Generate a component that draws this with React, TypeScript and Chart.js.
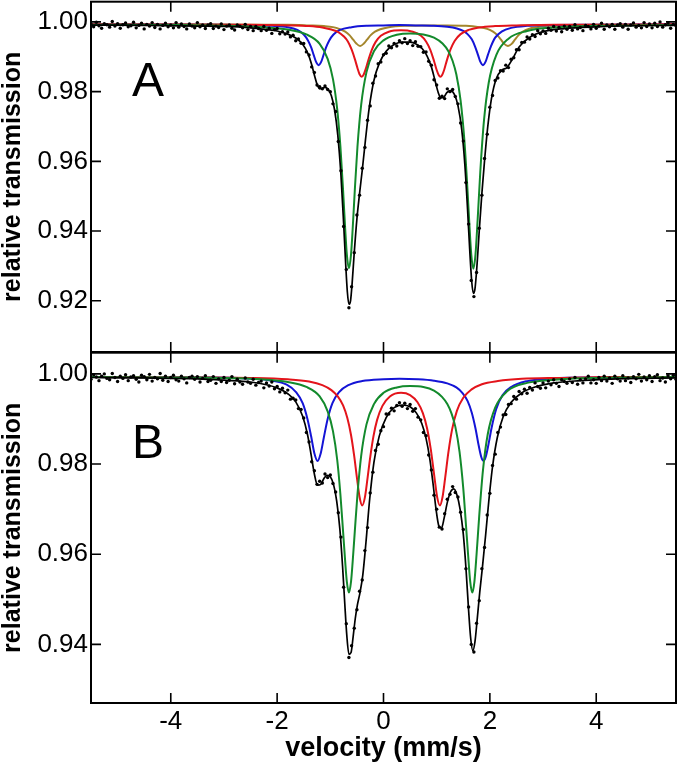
import React, { useEffect, useRef } from 'react';
import { Chart, registerables } from 'chart.js';

Chart.register(...registerables);

const FONT = '"Liberation Sans", Arial, Helvetica, sans-serif';

// ---------- axes ----------
const velocityTicks = [-4, -2, 0, 2, 4];
const transTicksA = [0.92, 0.94, 0.96, 0.98, 1.0];
const transTicksB = [0.94, 0.96, 0.98, 1.0];

// ---------- measured channels (velocity grid of the spectrometer) ----------
const V_START = -5.5;
const V_STEP = 0.05;
const CHANNELS = 221;
const channelVelocity = Array.from({ length: CHANNELS }, (_, i) => Math.round((V_START + V_STEP * i) * 100) / 100);

// ---------- panel A: measured transmission ----------
const dotsA = [
  0.9994, 0.9986, 0.9999, 0.9989, 0.9982, 0.9995, 0.9992, 0.9985, 1.0001, 0.9988, 0.9995, 0.9982, 0.9992, 0.9997, 0.9986, 0.9989, 0.9999, 0.9983, 0.9990, 0.9996,
  0.9980, 0.9993, 0.9988, 0.9998, 0.9984, 0.9993, 0.9980, 0.9990, 0.9996, 0.9986, 0.9991, 0.9983, 0.9998, 0.9985, 0.9994, 0.9987, 0.9980, 0.9994, 0.9988, 0.9983,
  0.9998, 0.9986, 0.9991, 0.9981, 0.9991, 0.9995, 0.9981, 0.9988, 0.9984, 0.9994, 0.9978, 0.9988, 0.9991, 0.9982, 0.9977, 0.9991, 0.9988, 0.9983, 0.9993, 0.9978,
  0.9987, 0.9975, 0.9987, 0.9981, 0.9975, 0.9987, 0.9976, 0.9982, 0.9967, 0.9978, 0.9981, 0.9966, 0.9972, 0.9965, 0.9971, 0.9957, 0.9962, 0.9946, 0.9951, 0.9939,
  0.9938, 0.9914, 0.9905, 0.9871, 0.9855, 0.9819, 0.9814, 0.9808, 0.9816, 0.9806, 0.9800, 0.9765, 0.9743, 0.9657, 0.9573, 0.9413, 0.9290, 0.9180, 0.9240, 0.9338,
  0.9446, 0.9503, 0.9580, 0.9640, 0.9718, 0.9759, 0.9824, 0.9845, 0.9880, 0.9885, 0.9906, 0.9910, 0.9931, 0.9926, 0.9938, 0.9931, 0.9946, 0.9940, 0.9952, 0.9938,
  0.9946, 0.9932, 0.9943, 0.9930, 0.9929, 0.9913, 0.9914, 0.9887, 0.9876, 0.9834, 0.9819, 0.9781, 0.9787, 0.9780, 0.9808, 0.9800, 0.9806, 0.9786, 0.9765, 0.9710,
  0.9658, 0.9539, 0.9420, 0.9258, 0.9212, 0.9281, 0.9408, 0.9503, 0.9608, 0.9678, 0.9755, 0.9789, 0.9832, 0.9839, 0.9860, 0.9859, 0.9876, 0.9869, 0.9893, 0.9897,
  0.9920, 0.9920, 0.9941, 0.9942, 0.9957, 0.9951, 0.9963, 0.9958, 0.9975, 0.9966, 0.9974, 0.9967, 0.9982, 0.9976, 0.9987, 0.9974, 0.9984, 0.9972, 0.9988, 0.9979,
  0.9987, 0.9976, 0.9992, 0.9980, 0.9984, 0.9975, 0.9990, 0.9987, 0.9980, 0.9993, 0.9982, 0.9988, 0.9996, 0.9979, 0.9991, 0.9986, 0.9993, 0.9979, 0.9991, 0.9995,
  0.9985, 0.9993, 0.9979, 0.9991, 0.9997, 0.9985, 0.9990, 0.9983, 0.9998, 0.9987, 0.9994, 0.9983, 0.9996, 0.9987, 1.0000, 0.9985, 0.9992, 0.9997, 0.9982, 0.9993,
  0.9989,
];

// ---------- panel A: fit (sum) and subspectra ----------
const fitA_v = [-5.5, -4.5, -3.5, -3, -2.5, -2.2, -2, -1.8, -1.65, -1.52, -1.42, -1.35, -1.29, -1.24, -1.2, -1.15, -1.1, -1.04, -0.98, -0.92, -0.86, -0.8, -0.75, -0.71, -0.68, -0.65, -0.62, -0.59, -0.55, -0.5, -0.45, -0.4, -0.34, -0.27, -0.18, -0.08, 0.05, 0.2, 0.35, 0.5, 0.62, 0.73, 0.82, 0.9, 0.97, 1.03, 1.08, 1.13, 1.19, 1.26, 1.33, 1.4, 1.47, 1.53, 1.58, 1.62, 1.66, 1.69, 1.72, 1.76, 1.8, 1.85, 1.9, 1.96, 2.03, 2.12, 2.22, 2.32, 2.42, 2.55, 2.75, 3, 3.4, 4, 4.7, 5.5];
const fitA_t = [0.9991, 0.9990, 0.9988, 0.9987, 0.9983, 0.9978, 0.9974, 0.9965, 0.9954, 0.9936, 0.9909, 0.9877, 0.9842, 0.9817, 0.9808, 0.9810, 0.9812, 0.9806, 0.9788, 0.9748, 0.9676, 0.9560, 0.9423, 0.9302, 0.9226, 0.9190, 0.9200, 0.9250, 0.9338, 0.9435, 0.9508, 0.9574, 0.9660, 0.9752, 0.9832, 0.9881, 0.9916, 0.9935, 0.9942, 0.9942, 0.9936, 0.9923, 0.9902, 0.9871, 0.9831, 0.9797, 0.9782, 0.9783, 0.9797, 0.9803, 0.9793, 0.9760, 0.9692, 0.9590, 0.9464, 0.9349, 0.9253, 0.9221, 0.9234, 0.9306, 0.9400, 0.9508, 0.9602, 0.9699, 0.9780, 0.9837, 0.9861, 0.9869, 0.9892, 0.9928, 0.9956, 0.9972, 0.9981, 0.9986, 0.9989, 0.9990];

const greenA_v = [-5.5, -4, -3, -2.3, -1.8, -1.45, -1.2, -1.05, -0.95, -0.87, -0.81, -0.76, -0.72, -0.69, -0.65, -0.61, -0.58, -0.54, -0.49, -0.42, -0.32, -0.18, 0, 0.25, 0.5, 0.75, 0.95, 1.11, 1.22, 1.3, 1.37, 1.45, 1.52, 1.57, 1.61, 1.65, 1.69, 1.73, 1.77, 1.82, 1.89, 1.98, 2.12, 2.35, 2.7, 3.2, 4, 5.5];
const greenA_t = [0.9992, 0.9991, 0.9989, 0.9985, 0.9978, 0.9964, 0.9937, 0.9894, 0.9836, 0.9749, 0.9642, 0.9517, 0.9405, 0.9334, 0.9293, 0.9334, 0.9405, 0.9516, 0.9641, 0.9762, 0.9856, 0.9916, 0.9947, 0.9963, 0.9967, 0.9964, 0.9955, 0.9938, 0.9916, 0.9888, 0.9849, 0.9774, 0.9662, 0.9543, 0.9432, 0.9333, 0.9292, 0.9333, 0.9432, 0.9570, 0.9718, 0.9827, 0.9905, 0.9952, 0.9974, 0.9984, 0.9989, 0.9991];

const redA_v = [-5.5, -3.5, -2.5, -1.8, -1.4, -1.15, -0.98, -0.85, -0.75, -0.67, -0.6, -0.54, -0.49, -0.45, -0.41, -0.37, -0.33, -0.28, -0.22, -0.15, -0.05, 0.1, 0.33, 0.55, 0.7, 0.8, 0.88, 0.95, 1.0, 1.04, 1.07, 1.1, 1.14, 1.19, 1.26, 1.34, 1.45, 1.6, 1.8, 2.1, 2.5, 3.2, 4.2, 5.5];
const redA_t = [0.9993, 0.9992, 0.9992, 0.9990, 0.9988, 0.9984, 0.9978, 0.9971, 0.9959, 0.9944, 0.9921, 0.9894, 0.9868, 0.9850, 0.9843, 0.9850, 0.9867, 0.9893, 0.9920, 0.9942, 0.9960, 0.9972, 0.9976, 0.9972, 0.9961, 0.9944, 0.9920, 0.9888, 0.9862, 0.9847, 0.9843, 0.9847, 0.9862, 0.9889, 0.9921, 0.9946, 0.9965, 0.9977, 0.9984, 0.9988, 0.9990, 0.9992, 0.9992, 0.9993];

const blueA_v = [-5.5, -3.5, -2.6, -2.1, -1.8, -1.62, -1.5, -1.42, -1.36, -1.31, -1.27, -1.22, -1.17, -1.13, -1.08, -1.02, -0.94, -0.82, -0.6, -0.3, 0, 0.3, 0.6, 0.95, 1.2, 1.38, 1.5, 1.58, 1.66, 1.72, 1.78, 1.82, 1.87, 1.92, 1.96, 2.02, 2.1, 2.22, 2.4, 2.7, 3.2, 4, 5.5];
const blueA_t = [0.9993, 0.9992, 0.9991, 0.9989, 0.9985, 0.9977, 0.9964, 0.9947, 0.9927, 0.9904, 0.9886, 0.9876, 0.9886, 0.9904, 0.9927, 0.9947, 0.9964, 0.9977, 0.9985, 0.9989, 0.9990, 0.9991, 0.9990, 0.9989, 0.9986, 0.9981, 0.9974, 0.9965, 0.9950, 0.9930, 0.9904, 0.9886, 0.9876, 0.9886, 0.9904, 0.9930, 0.9955, 0.9972, 0.9983, 0.9989, 0.9991, 0.9992, 0.9993];

const oliveA_v = [-5.5, -3.5, -2.5, -1.8, -1.4, -1.12, -0.95, -0.82, -0.72, -0.64, -0.57, -0.51, -0.44, -0.37, -0.31, -0.24, -0.16, -0.06, 0.1, 0.4, 0.8, 1.2, 1.55, 1.8, 1.95, 2.06, 2.14, 2.21, 2.27, 2.34, 2.41, 2.47, 2.54, 2.62, 2.73, 2.88, 3.1, 3.5, 4.2, 5.5];
const oliveA_t = [0.9993, 0.9993, 0.9992, 0.9992, 0.9990, 0.9988, 0.9985, 0.9979, 0.9972, 0.9962, 0.9949, 0.9938, 0.9931, 0.9938, 0.9949, 0.9962, 0.9972, 0.9979, 0.9985, 0.9989, 0.9990, 0.9990, 0.9989, 0.9985, 0.9980, 0.9972, 0.9962, 0.9949, 0.9937, 0.9931, 0.9937, 0.9949, 0.9962, 0.9972, 0.9980, 0.9985, 0.9989, 0.9991, 0.9992, 0.9993];

// ---------- panel B: measured transmission ----------
const dotsB = [
  0.9988, 0.9998, 0.9993, 0.9985, 0.9995, 1.0000, 0.9990, 0.9987, 1.0001, 0.9992, 0.9983, 0.9995, 0.9990, 0.9998, 0.9985, 0.9993, 0.9996, 0.9988, 0.9982, 0.9997,
  0.9994, 0.9987, 0.9999, 0.9984, 0.9992, 0.9989, 1.0001, 0.9986, 0.9995, 0.9983, 0.9992, 0.9997, 0.9987, 0.9984, 0.9995, 0.9989, 0.9980, 0.9992, 0.9995, 0.9988,
  0.9994, 0.9982, 0.9990, 0.9996, 0.9983, 0.9986, 0.9994, 0.9979, 0.9989, 0.9983, 0.9992, 0.9981, 0.9986, 0.9994, 0.9978, 0.9988, 0.9982, 0.9977, 0.9991, 0.9982,
  0.9979, 0.9988, 0.9975, 0.9981, 0.9984, 0.9969, 0.9980, 0.9973, 0.9982, 0.9967, 0.9972, 0.9960, 0.9968, 0.9958, 0.9964, 0.9944, 0.9946, 0.9942, 0.9923, 0.9921,
  0.9902, 0.9870, 0.9849, 0.9805, 0.9785, 0.9755, 0.9762, 0.9758, 0.9778, 0.9770, 0.9776, 0.9757, 0.9738, 0.9692, 0.9638, 0.9527, 0.9446, 0.9371, 0.9397, 0.9436,
  0.9477, 0.9518, 0.9543, 0.9608, 0.9659, 0.9736, 0.9782, 0.9830, 0.9844, 0.9874, 0.9883, 0.9911, 0.9911, 0.9924, 0.9918, 0.9930, 0.9936, 0.9928, 0.9935, 0.9923,
  0.9932, 0.9917, 0.9923, 0.9904, 0.9898, 0.9870, 0.9863, 0.9820, 0.9787, 0.9731, 0.9700, 0.9660, 0.9656, 0.9690, 0.9722, 0.9733, 0.9750, 0.9737, 0.9727, 0.9693,
  0.9655, 0.9568, 0.9483, 0.9400, 0.9383, 0.9447, 0.9497, 0.9568, 0.9615, 0.9687, 0.9735, 0.9797, 0.9822, 0.9870, 0.9882, 0.9909, 0.9910, 0.9932, 0.9934, 0.9950,
  0.9944, 0.9961, 0.9956, 0.9966, 0.9957, 0.9970, 0.9964, 0.9980, 0.9972, 0.9968, 0.9980, 0.9969, 0.9984, 0.9976, 0.9987, 0.9979, 0.9972, 0.9987, 0.9983, 0.9979,
  0.9989, 0.9981, 0.9992, 0.9977, 0.9987, 0.9980, 0.9989, 0.9995, 0.9980, 0.9987, 0.9979, 0.9992, 0.9985, 0.9995, 0.9984, 0.9991, 0.9979, 0.9995, 0.9989, 0.9984,
  0.9996, 0.9985, 0.9991, 0.9981, 0.9994, 0.9989, 0.9999, 0.9984, 0.9993, 0.9987, 0.9996, 0.9983, 0.9994, 0.9998, 0.9985, 0.9991, 0.9982, 0.9996, 0.9989, 0.9997,
  0.9988,
];

// ---------- panel B: fit (sum) and subspectra ----------
const fitB_v = [-5.5, -4.5, -3.5, -3, -2.5, -2.2, -2, -1.8, -1.65, -1.52, -1.43, -1.36, -1.3, -1.24, -1.18, -1.12, -1.06, -1, -0.94, -0.88, -0.82, -0.77, -0.73, -0.69, -0.65, -0.61, -0.57, -0.53, -0.49, -0.44, -0.39, -0.33, -0.26, -0.18, -0.08, 0.05, 0.2, 0.35, 0.5, 0.62, 0.72, 0.8, 0.87, 0.93, 0.99, 1.04, 1.09, 1.14, 1.2, 1.26, 1.32, 1.38, 1.44, 1.5, 1.55, 1.6, 1.64, 1.68, 1.72, 1.76, 1.81, 1.86, 1.92, 1.98, 2.05, 2.14, 2.25, 2.4, 2.6, 2.85, 3.2, 3.7, 4.4, 5.5];
const fitB_t = [0.9992, 0.9991, 0.9989, 0.9986, 0.9982, 0.9976, 0.9969, 0.9956, 0.9938, 0.9906, 0.9866, 0.9820, 0.9778, 0.9753, 0.9755, 0.9768, 0.9775, 0.9772, 0.9755, 0.9718, 0.9655, 0.9574, 0.9494, 0.9420, 0.9378, 0.9382, 0.9418, 0.9458, 0.9488, 0.9516, 0.9553, 0.9626, 0.9722, 0.9804, 0.9862, 0.9903, 0.9925, 0.9931, 0.9927, 0.9913, 0.9890, 0.9857, 0.9812, 0.9758, 0.9698, 0.9663, 0.9658, 0.9680, 0.9715, 0.9738, 0.9745, 0.9732, 0.9700, 0.9645, 0.9570, 0.9476, 0.9413, 0.9386, 0.9406, 0.9453, 0.9516, 0.9571, 0.9642, 0.9718, 0.9794, 0.9859, 0.9905, 0.9937, 0.9958, 0.9971, 0.9980, 0.9985, 0.9989, 0.9991];

const greenB_v = [-5.5, -4, -3, -2.3, -1.8, -1.45, -1.2, -1.05, -0.95, -0.87, -0.81, -0.76, -0.72, -0.69, -0.65, -0.61, -0.58, -0.54, -0.49, -0.42, -0.32, -0.18, 0, 0.25, 0.5, 0.75, 0.95, 1.1, 1.2, 1.28, 1.35, 1.43, 1.5, 1.55, 1.59, 1.63, 1.67, 1.71, 1.75, 1.8, 1.87, 1.96, 2.1, 2.33, 2.7, 3.2, 4, 5.5];
const greenB_t = [0.9993, 0.9992, 0.9991, 0.9988, 0.9982, 0.9971, 0.9950, 0.9917, 0.9873, 0.9809, 0.9732, 0.9650, 0.9583, 0.9540, 0.9515, 0.9540, 0.9583, 0.9650, 0.9732, 0.9818, 0.9888, 0.9933, 0.9958, 0.9970, 0.9973, 0.9971, 0.9963, 0.9949, 0.9933, 0.9912, 0.9883, 0.9827, 0.9746, 0.9666, 0.9600, 0.9540, 0.9515, 0.9540, 0.9600, 0.9685, 0.9786, 0.9866, 0.9925, 0.9962, 0.9980, 0.9987, 0.9991, 0.9993];

const redB_v = [-5.5, -3.5, -2.5, -1.8, -1.4, -1.15, -0.98, -0.86, -0.76, -0.68, -0.61, -0.55, -0.5, -0.45, -0.4, -0.35, -0.3, -0.25, -0.19, -0.12, -0.02, 0.12, 0.33, 0.5, 0.64, 0.74, 0.82, 0.89, 0.96, 1.01, 1.06, 1.11, 1.16, 1.22, 1.29, 1.38, 1.5, 1.65, 1.85, 2.15, 2.6, 3.3, 4.3, 5.5];
const redB_t = [0.9993, 0.9992, 0.9991, 0.9988, 0.9983, 0.9975, 0.9964, 0.9950, 0.9930, 0.9902, 0.9864, 0.9817, 0.9770, 0.9727, 0.9708, 0.9726, 0.9769, 0.9815, 0.9861, 0.9898, 0.9929, 0.9950, 0.9958, 0.9953, 0.9937, 0.9913, 0.9879, 0.9832, 0.9769, 0.9726, 0.9708, 0.9727, 0.9770, 0.9826, 0.9877, 0.9918, 0.9947, 0.9965, 0.9977, 0.9984, 0.9989, 0.9991, 0.9993, 0.9993];

const blueB_v = [-5.5, -3.5, -2.6, -2.1, -1.82, -1.64, -1.52, -1.43, -1.36, -1.3, -1.24, -1.18, -1.12, -1.05, -0.96, -0.84, -0.66, -0.4, 0, 0.3, 0.65, 0.95, 1.2, 1.37, 1.49, 1.58, 1.66, 1.73, 1.79, 1.84, 1.88, 1.92, 1.97, 2.03, 2.12, 2.24, 2.4, 2.7, 3.2, 4, 5.5];
const blueB_t = [0.9993, 0.9992, 0.9990, 0.9985, 0.9976, 0.9959, 0.9935, 0.9900, 0.9861, 0.9824, 0.9807, 0.9824, 0.9860, 0.9900, 0.9935, 0.9959, 0.9975, 0.9984, 0.9988, 0.9989, 0.9988, 0.9985, 0.9979, 0.9970, 0.9957, 0.9940, 0.9914, 0.9879, 0.9841, 0.9815, 0.9807, 0.9815, 0.9841, 0.9879, 0.9922, 0.9953, 0.9971, 0.9984, 0.9990, 0.9992, 0.9993];

// ---------- styling ----------
const COLORS = {
  data: '#000000',
  fit: '#000000',
  green: '#138a2c',
  red: '#e3141b',
  blue: '#1414d6',
  olive: '#a4862c',
};

function zip(xs: number[], ys: number[]) {
  return xs.map((x, i) => ({ x, y: ys[i] }));
}

function lineSet(label: string, xs: number[], ys: number[], color: string, width: number, order: number) {
  return {
    label,
    data: zip(xs, ys),
    showLine: true,
    borderColor: color,
    backgroundColor: color,
    borderWidth: width,
    pointRadius: 0,
    pointHoverRadius: 0,
    cubicInterpolationMode: 'monotone',
    fill: false,
    order,
  };
}

function dotSet(ys: number[]) {
  return {
    label: 'data',
    data: zip(channelVelocity, ys),
    showLine: false,
    pointRadius: 1.7,
    pointHoverRadius: 0,
    pointBackgroundColor: COLORS.data,
    pointBorderColor: COLORS.data,
    pointBorderWidth: 0,
    order: 0,
  };
}

function framePlugin(letter: string, lx: number, ly: number) {
  return {
    id: 'mossFrame' + letter,
    afterDraw(chart: any) {
      const { ctx, chartArea: a, scales } = chart;
      const xs = scales.x;
      const ys = scales.y;
      ctx.save();
      ctx.strokeStyle = '#000';
      ctx.lineWidth = 1.6;
      ctx.beginPath();
      for (const t of xs.ticks) {
        const p = xs.getPixelForValue(t.value);
        ctx.moveTo(p, a.bottom);
        ctx.lineTo(p, a.bottom - 10);
        ctx.moveTo(p, a.top);
        ctx.lineTo(p, a.top + 10);
      }
      for (const t of ys.ticks) {
        const p = ys.getPixelForValue(t.value);
        ctx.moveTo(a.left, p);
        ctx.lineTo(a.left + 10, p);
        ctx.moveTo(a.right, p);
        ctx.lineTo(a.right - 10, p);
      }
      ctx.stroke();
      ctx.lineWidth = 2;
      ctx.strokeRect(a.left, a.top, a.right - a.left, a.bottom - a.top);
      ctx.fillStyle = '#000';
      ctx.font = `48px ${FONT}`;
      ctx.textAlign = 'center';
      ctx.textBaseline = 'alphabetic';
      ctx.fillText(letter, a.left + lx, a.top + ly);
      ctx.restore();
    },
  };
}

function makeConfig(panel: 'A' | 'B') {
  const isA = panel === 'A';
  const datasets: any[] = [dotSet(isA ? dotsA : dotsB)];
  if (isA) {
    datasets.push(lineSet('fit', fitA_v, fitA_t, COLORS.fit, 1.7, 1));
    datasets.push(lineSet('green', greenA_v, greenA_t, COLORS.green, 2, 2));
    datasets.push(lineSet('red', redA_v, redA_t, COLORS.red, 2, 3));
    datasets.push(lineSet('blue', blueA_v, blueA_t, COLORS.blue, 2, 4));
    datasets.push(lineSet('olive', oliveA_v, oliveA_t, COLORS.olive, 2, 5));
  } else {
    datasets.push(lineSet('fit', fitB_v, fitB_t, COLORS.fit, 1.7, 1));
    datasets.push(lineSet('green', greenB_v, greenB_t, COLORS.green, 2, 2));
    datasets.push(lineSet('red', redB_v, redB_t, COLORS.red, 2, 3));
    datasets.push(lineSet('blue', blueB_v, blueB_t, COLORS.blue, 2, 4));
  }
  const yTicks = isA ? transTicksA : transTicksB;
  return {
    type: 'scatter' as const,
    data: { datasets },
    plugins: [isA ? framePlugin('A', 57, 94) : framePlugin('B', 57, 105)],
    options: {
      responsive: false,
      animation: false,
      events: [],
      layout: { padding: { top: 1, right: 2, left: 0, bottom: 0 } },
      plugins: { legend: { display: false }, tooltip: { enabled: false } },
      scales: {
        x: {
          type: 'linear',
          position: 'bottom',
          min: -5.5,
          max: 5.5,
          afterBuildTicks: (s: any) => {
            s.ticks = velocityTicks.map((v) => ({ value: v }));
          },
          afterFit: (s: any) => {
            s.height = isA ? 2 : 62;
            s.paddingLeft = 0;
            s.paddingRight = 0;
            s.paddingTop = 0;
            s.paddingBottom = 0;
          },
          grid: { display: false, drawTicks: false },
          border: { display: false },
          ticks: {
            display: !isA,
            autoSkip: false,
            maxRotation: 0,
            padding: 3,
            color: '#000',
            font: { family: FONT, size: 26 },
            callback: (v: any) => String(v),
          },
          title: {
            display: !isA,
            text: 'velocity (mm/s)',
            color: '#000',
            font: { family: FONT, size: 27, weight: 'bold' },
            padding: { top: 0, bottom: 0 },
          },
        },
        y: {
          type: 'linear',
          position: 'left',
          min: isA ? 0.9053 : 0.927,
          max: isA ? 1.0058 : 1.0047,
          afterBuildTicks: (s: any) => {
            s.ticks = yTicks.map((v) => ({ value: v }));
          },
          afterFit: (s: any) => {
            s.width = 91;
            s.paddingTop = 0;
            s.paddingBottom = 0;
            s.paddingLeft = 0;
            s.paddingRight = 0;
          },
          grid: { display: false, drawTicks: false },
          border: { display: false },
          ticks: {
            autoSkip: false,
            padding: 3,
            color: '#000',
            font: { family: FONT, size: 26 },
            callback: (v: any) => Number(v).toFixed(2),
          },
          title: {
            display: true,
            text: 'relative transmission',
            color: '#000',
            font: { family: FONT, size: 25, weight: 'bold' },
            padding: { top: -2, bottom: 0 },
          },
        },
      },
    },
  };
}

function Panel({ panel, top, height }: { panel: 'A' | 'B'; top: number; height: number }) {
  const ref = useRef<HTMLCanvasElement | null>(null);
  useEffect(() => {
    if (!ref.current) return;
    const chart = new Chart(ref.current, makeConfig(panel) as any);
    return () => chart.destroy();
  }, [panel]);
  return (
    <canvas
      ref={ref}
      width={678}
      height={height}
      style={{ position: 'absolute', left: 0, top, width: 678, height, display: 'block' }}
    />
  );
}

export default function App() {
  return (
    <div style={{ position: 'absolute', left: 0, top: 0, width: 678, height: 765, background: '#ffffff', overflow: 'hidden' }}>
      <Panel panel="A" top={0} height={354} />
      <Panel panel="B" top={351} height={414} />
    </div>
  );
}
